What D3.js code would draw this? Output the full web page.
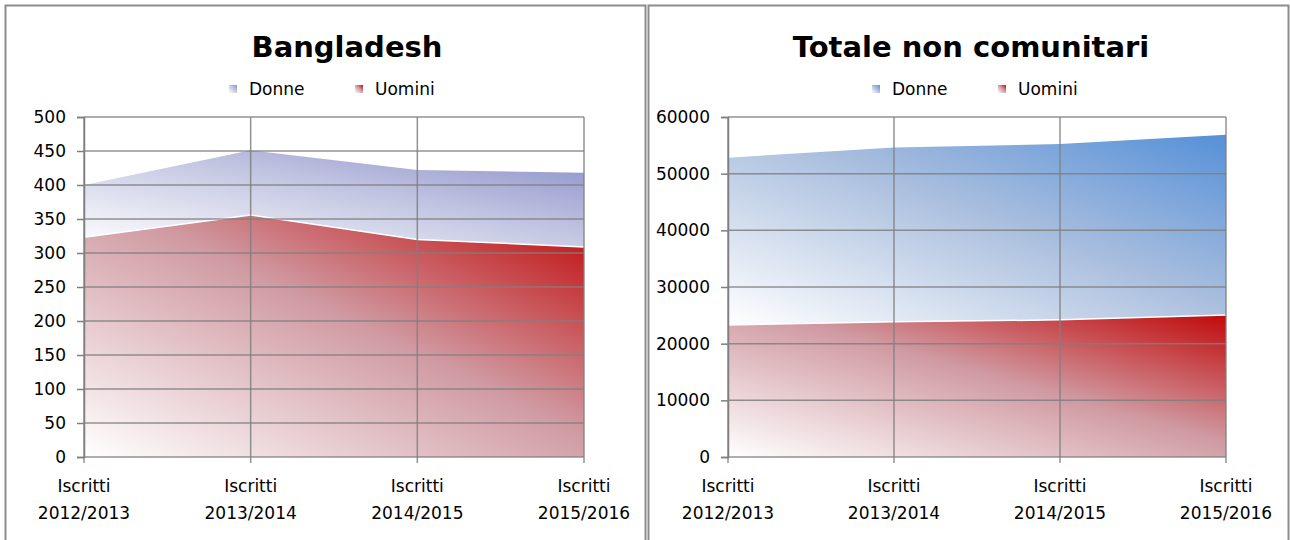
<!DOCTYPE html>
<html>
<head>
<meta charset="utf-8">
<script src="https://cdn.jsdelivr.net/npm/d3@7"></script>
<style>
  body { margin: 0; background: #fff; }
  text { font-family: "DejaVu Sans", sans-serif; fill: #000; }
</style>
</head>
<body>
<script>
// categories (two-line tick labels)
var catTop = ["Iscritti", "Iscritti", "Iscritti", "Iscritti"];
var catBottom = ["2012/2013", "2013/2014", "2014/2015", "2015/2016"];

// Bangladesh (stacked: Uomini at bottom, Donne on top)
var bdUomini = [323, 356, 320, 309];
var bdDonne = [78, 96, 103, 110];
var bdTicks = [0, 50, 100, 150, 200, 250, 300, 350, 400, 450, 500];

// Totale non comunitari
var ncUomini = [23300, 23850, 24200, 25050];
var ncDonne = [29650, 30900, 31150, 31950];
var ncTicks = [0, 10000, 20000, 30000, 40000, 50000, 60000];

var svg = d3.select("body").append("svg")
    .attr("width", 1290)
    .attr("height", 540);

var defs = svg.append("defs");

//makes a diagonal gradient from white (bottom-left) to colour (top-right)
function makeGrad(id, mid, full) {
  var g = defs.append("linearGradient")
      .attr("id", id)
      .attr("x1", 0).attr("y1", 1)
      .attr("x2", 1).attr("y2", 0);
  g.append("stop").attr("offset", "0%").attr("stop-color", "#ffffff");
  g.append("stop").attr("offset", "55%").attr("stop-color", mid);
  g.append("stop").attr("offset", "100%").attr("stop-color", full);
}
makeGrad("bdDonneGrad", "#c3c6e2", "#8a8ec8");
makeGrad("bdUominiGrad", "#d09aa2", "#c00a0a");
makeGrad("ncDonneGrad", "#a9bede", "#5590d8");
makeGrad("ncUominiGrad", "#d09aa2", "#c00a0a");

// panel borders
svg.append("rect").attr("x", 5.5).attr("y", 5.5).attr("width", 640).attr("height", 545)
    .attr("fill", "none").attr("stroke", "#8c8c8c").attr("stroke-width", 2);
svg.append("rect").attr("x", 648.5).attr("y", 5.5).attr("width", 640).attr("height", 545)
    .attr("fill", "none").attr("stroke", "#8c8c8c").attr("stroke-width", 2);

function drawChart(cfg) {
  var g = svg.append("g");

  var x = d3.scalePoint()
      .domain(d3.range(catBottom.length))
      .range([cfg.left, cfg.right]);

  var y = d3.scaleLinear()
      .domain([0, d3.max(cfg.ticks)])
      .range([cfg.bottom, cfg.top]);

  var rows = catBottom.map(function(c, i) {
    return { i: i, Uomini: cfg.uomini[i], Donne: cfg.donne[i] };
  });
  var series = d3.stack().keys(["Uomini", "Donne"])(rows);

  var area = d3.area()
      .x(function(d) { return x(d.data.i); })
      .y0(function(d) { return y(d[0]); })
      .y1(function(d) { return y(d[1]); });
  var topLine = d3.line()
      .x(function(d) { return x(d.data.i); })
      .y(function(d) { return y(d[1]); });

  // title
  g.append("text")
      .attr("x", cfg.titleX)
      .attr("y", 57)
      .attr("text-anchor", "middle")
      .style("font-size", "29px")
      .style("font-weight", "bold")
      .text(cfg.title);

  // legend
  var leg = [["Donne", cfg.grads[1]], ["Uomini", cfg.grads[0]]];
  leg.forEach(function(l, k) {
    var lx = cfg.legendX + k * 126;
    g.append("rect").attr("x", lx).attr("y", 85).attr("width", 8).attr("height", 8)
        .attr("fill", "url(#" + l[1] + ")");
    g.append("text").attr("x", lx + 20).attr("y", 95)
        .style("font-size", "17px").text(l[0]);
  });

  // areas
  series.forEach(function(s, k) {
    g.append("path")
        .datum(s)
        .attr("fill", "url(#" + cfg.grads[k] + ")")
        .attr("d", area);
  });
  series.forEach(function(s) {
    g.append("path")
        .datum(s)
        .attr("fill", "none")
        .attr("stroke", "#ffffff")
        .attr("stroke-width", 1.5)
        .attr("d", topLine);
  });

  // gridlines on top
  g.append("g").selectAll("line").data(cfg.ticks).enter().append("line")
      .attr("x1", cfg.left).attr("x2", cfg.right)
      .attr("y1", function(d) { return y(d); })
      .attr("y2", function(d) { return y(d); })
      .attr("stroke", "#7f7f7f").attr("stroke-opacity", 0.85).attr("stroke-width", 1.5);
  g.append("g").selectAll("line").data(d3.range(catBottom.length)).enter().append("line")
      .attr("x1", function(d) { return x(d); })
      .attr("x2", function(d) { return x(d); })
      .attr("y1", cfg.top).attr("y2", cfg.bottom + 6)
      .attr("stroke", "#7f7f7f").attr("stroke-opacity", 0.85).attr("stroke-width", 1.5);

  // y axis
  var yAxis = g.append("g")
      .attr("transform", "translate(" + cfg.left + ",0)")
      .call(d3.axisLeft(y).tickValues(cfg.ticks).tickSize(7).tickPadding(11).tickFormat(d3.format("d")));
  yAxis.select(".domain").attr("stroke", "#7f7f7f").attr("stroke-width", 1.5);
  yAxis.selectAll(".tick line").attr("stroke", "#7f7f7f").attr("stroke-width", 1.5);
  yAxis.selectAll(".tick text").style("font-size", "17px").style("font-family", "DejaVu Sans").attr("fill", "#000");

  // x labels
  var xl = g.append("g");
  catBottom.forEach(function(c, i) {
    xl.append("text").attr("x", x(i)).attr("y", 492).attr("text-anchor", "middle")
        .style("font-size", "17px").text(catTop[i]);
    xl.append("text").attr("x", x(i)).attr("y", 519).attr("text-anchor", "middle")
        .style("font-size", "17px").text(c);
  });
}

drawChart({
  title: "Bangladesh", titleX: 347, legendX: 229,
  left: 84, right: 584, top: 117, bottom: 457,
  ticks: bdTicks, uomini: bdUomini, donne: bdDonne,
  grads: ["bdUominiGrad", "bdDonneGrad"]
});
drawChart({
  title: "Totale non comunitari", titleX: 971, legendX: 872,
  left: 728, right: 1226, top: 117, bottom: 457,
  ticks: ncTicks, uomini: ncUomini, donne: ncDonne,
  grads: ["ncUominiGrad", "ncDonneGrad"]
});
</script>
</body>
</html>
